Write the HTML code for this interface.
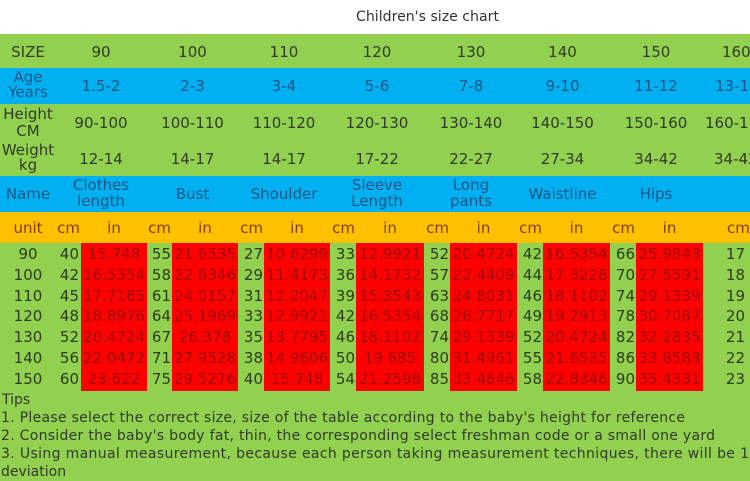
<!DOCTYPE html>
<html><head><meta charset="utf-8"><style>
html,body{margin:0;padding:0;background:#fff;}
svg{display:block;}
text{font-family:"DejaVu Sans","Liberation Sans",sans-serif;}
.h{font-size:15px;fill:#2f3a25;}
.b{font-size:15px;fill:#1f5486;}
.u{font-size:15px;fill:#7f3f00;}
.d{font-size:15px;fill:#2a3a1a;}
.r{font-size:15px;fill:#a00808;}
.t{font-size:14px;fill:#2f3a25;}
</style></head><body>
<svg width="750" height="481" viewBox="0 0 750 481" xmlns="http://www.w3.org/2000/svg">
<rect x="0" y="0" width="750" height="34" fill="#ffffff"/>
<rect x="0" y="34" width="750" height="447" fill="#92d050"/>
<rect x="0" y="68" width="750" height="36" fill="#00b0f0"/>
<rect x="0" y="176" width="750" height="36" fill="#00b0f0"/>
<rect x="0" y="212" width="750" height="31" fill="#ffc000"/>
<g fill="#ff0000">
<rect x="81" y="243" width="66" height="148"/>
<rect x="172" y="243" width="66" height="148"/>
<rect x="264" y="243" width="66" height="148"/>
<rect x="356" y="243" width="68" height="148"/>
<rect x="450" y="243" width="67" height="148"/>
<rect x="543" y="243" width="67" height="148"/>
<rect x="636" y="243" width="67" height="148"/>
</g>
<text x="356" y="21" font-size="14" fill="#333" textLength="143" lengthAdjust="spacingAndGlyphs" style="font-family:'DejaVu Sans',sans-serif">Children's size chart</text>

<!-- SIZE row -->
<g class="h" text-anchor="middle">
<text x="28" y="57">SIZE</text>
<text x="101" y="57">90</text><text x="192.5" y="57">100</text><text x="284" y="57">110</text><text x="377" y="57">120</text><text x="471" y="57">130</text><text x="562.5" y="57">140</text><text x="656" y="57">150</text>
</g>
<text class="h" x="722" y="57">160</text>

<!-- Age row -->
<g class="b" text-anchor="middle">
<text x="28" y="82">Age</text><text x="28" y="97">Years</text>
<text x="101" y="91">1.5-2</text><text x="192.5" y="91">2-3</text><text x="284" y="91">3-4</text><text x="377" y="91">5-6</text><text x="471" y="91">7-8</text><text x="562.5" y="91">9-10</text><text x="656" y="91">11-12</text>
</g>
<text class="b" x="715" y="91">13-14</text>

<!-- Height -->
<g class="h" text-anchor="middle">
<text x="28" y="119">Height</text><text x="28" y="136">CM</text>
<text x="101" y="128">90-100</text><text x="192.5" y="128">100-110</text><text x="284" y="128">110-120</text><text x="377" y="128">120-130</text><text x="471" y="128">130-140</text><text x="562.5" y="128">140-150</text><text x="656" y="128">150-160</text>
<text x="28" y="155">Weight</text><text x="28" y="170">kg</text>
<text x="101" y="164">12-14</text><text x="192.5" y="164">14-17</text><text x="284" y="164">14-17</text><text x="377" y="164">17-22</text><text x="471" y="164">22-27</text><text x="562.5" y="164">27-34</text><text x="656" y="164">34-42</text>
</g>
<text class="h" x="705" y="128">160-170</text>
<text class="h" x="714" y="164">34-42</text>

<!-- Name row -->
<g class="b" text-anchor="middle">
<text x="28" y="199">Name</text>
<text x="101" y="190">Clothes</text><text x="101" y="206">length</text>
<text x="192.5" y="199">Bust</text>
<text x="284" y="199">Shoulder</text>
<text x="377" y="190">Sleeve</text><text x="377" y="206">Length</text>
<text x="471" y="190">Long</text><text x="471" y="206">pants</text>
<text x="562.5" y="199">Waistline</text>
<text x="656" y="199">Hips</text>
</g>

<!-- unit row -->
<g class="u">
<text x="28" y="233" text-anchor="middle">unit</text>
<text x="80" y="233" text-anchor="end">cm</text><text x="114" y="233" text-anchor="middle">in</text>
<text x="171" y="233" text-anchor="end">cm</text><text x="205" y="233" text-anchor="middle">in</text>
<text x="263" y="233" text-anchor="end">cm</text><text x="297" y="233" text-anchor="middle">in</text>
<text x="355" y="233" text-anchor="end">cm</text><text x="390" y="233" text-anchor="middle">in</text>
<text x="449" y="233" text-anchor="end">cm</text><text x="483.5" y="233" text-anchor="middle">in</text>
<text x="542" y="233" text-anchor="end">cm</text><text x="576.5" y="233" text-anchor="middle">in</text>
<text x="635" y="233" text-anchor="end">cm</text><text x="669.5" y="233" text-anchor="middle">in</text>
<text x="727" y="233">cm</text>
</g>

<!-- data -->
<g class="d" text-anchor="middle">
<text x="28" y="259">90</text><text x="28" y="280">100</text><text x="28" y="301">110</text><text x="28" y="321">120</text><text x="28" y="342">130</text><text x="28" y="363">140</text><text x="28" y="384">150</text>
</g>
<g class="d" text-anchor="end">
<text x="79" y="259">40</text><text x="79" y="280">42</text><text x="79" y="301">45</text><text x="79" y="321">48</text><text x="79" y="342">52</text><text x="79" y="363">56</text><text x="79" y="384">60</text>
<text x="171" y="259">55</text><text x="171" y="280">58</text><text x="171" y="301">61</text><text x="171" y="321">64</text><text x="171" y="342">67</text><text x="171" y="363">71</text><text x="171" y="384">75</text>
<text x="263" y="259">27</text><text x="263" y="280">29</text><text x="263" y="301">31</text><text x="263" y="321">33</text><text x="263" y="342">35</text><text x="263" y="363">38</text><text x="263" y="384">40</text>
<text x="355" y="259">33</text><text x="355" y="280">36</text><text x="355" y="301">39</text><text x="355" y="321">42</text><text x="355" y="342">46</text><text x="355" y="363">50</text><text x="355" y="384">54</text>
<text x="449" y="259">52</text><text x="449" y="280">57</text><text x="449" y="301">63</text><text x="449" y="321">68</text><text x="449" y="342">74</text><text x="449" y="363">80</text><text x="449" y="384">85</text>
<text x="542" y="259">42</text><text x="542" y="280">44</text><text x="542" y="301">46</text><text x="542" y="321">49</text><text x="542" y="342">52</text><text x="542" y="363">55</text><text x="542" y="384">58</text>
<text x="635" y="259">66</text><text x="635" y="280">70</text><text x="635" y="301">74</text><text x="635" y="321">78</text><text x="635" y="342">82</text><text x="635" y="363">86</text><text x="635" y="384">90</text>
<text x="745" y="259">17</text><text x="745" y="280">18</text><text x="745" y="301">19</text><text x="745" y="321">20</text><text x="745" y="342">21</text><text x="745" y="363">22</text><text x="745" y="384">23</text>
</g>
<g class="r" text-anchor="middle">
<text x="114" y="259">15.748</text><text x="114" y="280">16.5354</text><text x="114" y="301">17.7165</text><text x="114" y="321">18.8976</text><text x="114" y="342">20.4724</text><text x="114" y="363">22.0472</text><text x="114" y="384">23.622</text>
<text x="205" y="259">21.6535</text><text x="205" y="280">22.8346</text><text x="205" y="301">24.0157</text><text x="205" y="321">25.1969</text><text x="205" y="342">26.378</text><text x="205" y="363">27.9528</text><text x="205" y="384">29.5276</text>
<text x="297" y="259">10.6299</text><text x="297" y="280">11.4173</text><text x="297" y="301">12.2047</text><text x="297" y="321">12.9921</text><text x="297" y="342">13.7795</text><text x="297" y="363">14.9606</text><text x="297" y="384">15.748</text>
<text x="390" y="259">12.9921</text><text x="390" y="280">14.1732</text><text x="390" y="301">15.3543</text><text x="390" y="321">16.5354</text><text x="390" y="342">18.1102</text><text x="390" y="363">19.685</text><text x="390" y="384">21.2598</text>
<text x="483.5" y="259">20.4724</text><text x="483.5" y="280">22.4409</text><text x="483.5" y="301">24.8031</text><text x="483.5" y="321">26.7717</text><text x="483.5" y="342">29.1339</text><text x="483.5" y="363">31.4961</text><text x="483.5" y="384">33.4646</text>
<text x="576.5" y="259">16.5354</text><text x="576.5" y="280">17.3228</text><text x="576.5" y="301">18.1102</text><text x="576.5" y="321">19.2913</text><text x="576.5" y="342">20.4724</text><text x="576.5" y="363">21.6535</text><text x="576.5" y="384">22.8346</text>
<text x="669.5" y="259">25.9843</text><text x="669.5" y="280">27.5591</text><text x="669.5" y="301">29.1339</text><text x="669.5" y="321">30.7087</text><text x="669.5" y="342">32.2835</text><text x="669.5" y="363">33.8583</text><text x="669.5" y="384">35.4331</text>
</g>

<!-- tips -->
<g class="t">
<text x="2" y="404">Tips</text>
<text x="1" y="422" textLength="684" lengthAdjust="spacing">1. Please select the correct size, size of the table according to the baby's height for reference</text>
<text x="1" y="440" textLength="714" lengthAdjust="spacing">2. Consider the baby's body fat, thin, the corresponding select freshman code or a small one yard</text>
<text x="1" y="458" textLength="748" lengthAdjust="spacing">3. Using manual measurement, because each person taking measurement techniques, there will be 1</text>
<text x="1" y="476">deviation</text>
</g>
</svg>
</body></html>
